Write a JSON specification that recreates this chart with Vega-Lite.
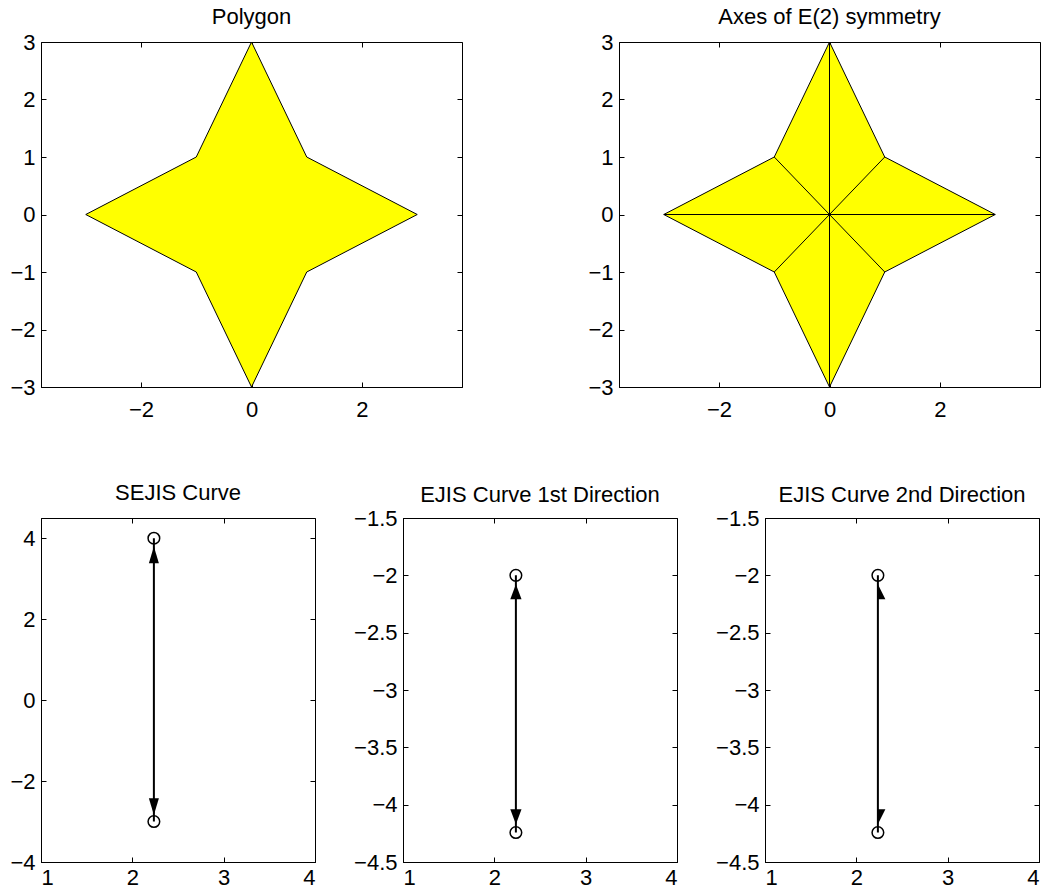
{
  "$schema": "https://vega.github.io/schema/vega-lite/v6.json",
  "background": "white",
  "padding": {"left": 9, "top": 5, "right": 5, "bottom": 5},
  "spacing": 60,
  "resolve": {"scale": {"shape": "independent"}},
  "config": {
    "font": "Liberation Sans",
    "view": {"stroke": "black", "strokeWidth": 1},
    "axis": {
      "grid": false,
      "domainColor": "black",
      "domainWidth": 1,
      "tickColor": "black",
      "tickWidth": 1,
      "tickSize": -5,
      "labelColor": "black",
      "labelFont": "Liberation Sans",
      "labelFontSize": 22,
      "labelPadding": 11,
      "title": null,
      "format": "~g"
    },
    "axisBottom": {"labelPadding": 17},
    "title": {"font": "Liberation Sans", "fontSize": 22, "fontWeight": "normal", "color": "black", "offset": 2}
  },
  "datasets": {
    "star": [
      {"i": 0, "x": 0, "y": 3},
      {"i": 1, "x": 1, "y": 1},
      {"i": 2, "x": 3, "y": 0},
      {"i": 3, "x": 1, "y": -1},
      {"i": 4, "x": 0, "y": -3},
      {"i": 5, "x": -1, "y": -1},
      {"i": 6, "x": -3, "y": 0},
      {"i": 7, "x": -1, "y": 1}
    ],
    "axes": [
      {"x1": 0, "y1": 3, "x2": 0, "y2": -3},
      {"x1": -3, "y1": 0, "x2": 3, "y2": 0},
      {"x1": -1, "y1": 1, "x2": 1, "y2": -1},
      {"x1": 1, "y1": 1, "x2": -1, "y2": -1}
    ],
    "sejis_pts": [{"x": 2.236, "y": 4}, {"x": 2.236, "y": -3}],
    "sejis_arrows": [{"x": 2.236, "y": 3.59, "dir": "up"}, {"x": 2.236, "y": -2.63, "dir": "down"}],
    "ejis_pts": [{"x": 2.236, "y": -2}, {"x": 2.236, "y": -4.243}],
    "ejis_arrows": [{"x": 2.236, "y": -2.143, "dir": "up"}, {"x": 2.236, "y": -4.105, "dir": "down"}]
  },
  "vconcat": [
    {
      "bounds": "flush",
      "spacing": 157,
      "hconcat": [
        {
          "title": "Polygon",
          "width": 421,
          "height": 345,
          "data": {"name": "star"},
          "resolve": {"axis": {"x": "independent", "y": "independent"}},
          "layer": [
            {
              "mark": {"type": "line", "interpolate": "linear-closed", "fill": "#ffff00", "stroke": "black", "strokeWidth": 1, "clip": true},
              "encoding": {
                "x": {"field": "x", "type": "quantitative", "scale": {"domain": [-3.81, 3.81], "nice": false, "zero": false}, "axis": {"values": [-2, 0, 2], "orient": "bottom"}},
                "y": {"field": "y", "type": "quantitative", "scale": {"domain": [-3, 3], "nice": false, "zero": false}, "axis": {"values": [-3, -2, -1, 0, 1, 2, 3], "orient": "left"}},
                "order": {"field": "i", "type": "quantitative"}
              }
            },
            {
              "mark": {"type": "point", "opacity": 0},
              "encoding": {
                "x": {"field": "x", "type": "quantitative", "axis": {"values": [-2, 0, 2], "orient": "top", "labels": false, "domain": false}},
                "y": {"field": "y", "type": "quantitative", "axis": {"values": [-3, -2, -1, 0, 1, 2, 3], "orient": "right", "labels": false, "domain": false}}
              }
            }
          ]
        },
        {
          "title": "Axes of E(2) symmetry",
          "width": 421,
          "height": 345,
          "resolve": {"axis": {"x": "independent", "y": "independent"}},
          "layer": [
            {
              "data": {"name": "star"},
              "mark": {"type": "line", "interpolate": "linear-closed", "fill": "#ffff00", "stroke": "black", "strokeWidth": 1, "clip": true},
              "encoding": {
                "x": {"field": "x", "type": "quantitative", "scale": {"domain": [-3.81, 3.81], "nice": false, "zero": false}, "axis": {"values": [-2, 0, 2], "orient": "bottom"}},
                "y": {"field": "y", "type": "quantitative", "scale": {"domain": [-3, 3], "nice": false, "zero": false}, "axis": {"values": [-3, -2, -1, 0, 1, 2, 3], "orient": "left"}},
                "order": {"field": "i", "type": "quantitative"}
              }
            },
            {
              "data": {"name": "axes"},
              "mark": {"type": "rule", "stroke": "black", "strokeWidth": 1},
              "encoding": {
                "x": {"field": "x1", "type": "quantitative", "axis": {"values": [-2, 0, 2], "orient": "top", "labels": false, "domain": false}},
                "y": {"field": "y1", "type": "quantitative", "axis": {"values": [-3, -2, -1, 0, 1, 2, 3], "orient": "right", "labels": false, "domain": false}},
                "x2": {"field": "x2"},
                "y2": {"field": "y2"}
              }
            }
          ]
        }
      ]
    },
    {
      "bounds": "flush",
      "spacing": 88,
      "resolve": {"scale": {"shape": "independent"}},
      "hconcat": [
        {
          "title": {"text": "SEJIS Curve", "offset": 13},
          "width": 274,
          "height": 344,
          "resolve": {"axis": {"x": "independent", "y": "independent"}},
          "layer": [
            {
              "data": {"name": "sejis_pts"},
              "mark": {"type": "line", "stroke": "black", "strokeWidth": 2},
              "encoding": {
                "x": {"field": "x", "type": "quantitative", "scale": {"domain": [1, 4], "nice": false, "zero": false}, "axis": {"values": [1, 2, 3, 4], "orient": "bottom", "labelPadding": 10}},
                "y": {"field": "y", "type": "quantitative", "scale": {"domain": [-4, 4.5], "nice": false, "zero": false}, "axis": {"values": [-4, -2, 0, 2, 4], "orient": "left"}}
              }
            },
            {
              "data": {"name": "sejis_pts"},
              "mark": {"type": "point", "shape": "circle", "filled": false, "stroke": "black", "strokeWidth": 1.5, "size": 135, "opacity": 1},
              "encoding": {
                "x": {"field": "x", "type": "quantitative", "axis": {"values": [1, 2, 3, 4], "orient": "top", "labels": false, "domain": false}},
                "y": {"field": "y", "type": "quantitative", "axis": {"values": [-4, -2, 0, 2, 4], "orient": "right", "labels": false, "domain": false}}
              }
            },
            {
              "data": {"name": "sejis_arrows"},
              "mark": {"type": "point", "filled": true, "fill": "black", "stroke": null, "size": 279, "opacity": 1},
              "encoding": {
                "x": {"field": "x", "type": "quantitative", "axis": null},
                "y": {"field": "y", "type": "quantitative", "axis": null},
                "shape": {"field": "dir", "type": "nominal", "scale": {"domain": ["up", "down"], "range": ["M-0.6,1L0.6,1L0,-1Z", "M-0.6,-1L0.6,-1L0,1Z"]}, "legend": null}
              }
            }
          ]
        },
        {
          "title": {"text": "EJIS Curve 1st Direction", "offset": 0},
          "width": 274,
          "height": 344,
          "resolve": {"axis": {"x": "independent", "y": "independent"}},
          "layer": [
            {
              "data": {"name": "ejis_pts"},
              "mark": {"type": "line", "stroke": "black", "strokeWidth": 2},
              "encoding": {
                "x": {"field": "x", "type": "quantitative", "scale": {"domain": [1, 4], "nice": false, "zero": false}, "axis": {"values": [1, 2, 3, 4], "orient": "bottom", "labelPadding": 10}},
                "y": {"field": "y", "type": "quantitative", "scale": {"domain": [-4.5, -1.5], "nice": false, "zero": false}, "axis": {"values": [-4.5, -4, -3.5, -3, -2.5, -2, -1.5], "orient": "left"}}
              }
            },
            {
              "data": {"name": "ejis_pts"},
              "mark": {"type": "point", "shape": "circle", "filled": false, "stroke": "black", "strokeWidth": 1.5, "size": 135, "opacity": 1},
              "encoding": {
                "x": {"field": "x", "type": "quantitative", "axis": {"values": [1, 2, 3, 4], "orient": "top", "labels": false, "domain": false}},
                "y": {"field": "y", "type": "quantitative", "axis": {"values": [-4.5, -4, -3.5, -3, -2.5, -2, -1.5], "orient": "right", "labels": false, "domain": false}}
              }
            },
            {
              "data": {"name": "ejis_arrows"},
              "mark": {"type": "point", "filled": true, "fill": "black", "stroke": null, "size": 225, "opacity": 1},
              "encoding": {
                "x": {"field": "x", "type": "quantitative", "axis": null},
                "y": {"field": "y", "type": "quantitative", "axis": null},
                "shape": {"field": "dir", "type": "nominal", "scale": {"domain": ["up", "down"], "range": ["M-0.75,1L0.75,1L0,-1Z", "M-0.75,-1L0.75,-1L0,1Z"]}, "legend": null}
              }
            }
          ]
        },
        {
          "title": {"text": "EJIS Curve 2nd Direction", "offset": 0},
          "width": 274,
          "height": 344,
          "resolve": {"axis": {"x": "independent", "y": "independent"}},
          "layer": [
            {
              "data": {"name": "ejis_pts"},
              "mark": {"type": "line", "stroke": "black", "strokeWidth": 2},
              "encoding": {
                "x": {"field": "x", "type": "quantitative", "scale": {"domain": [1, 4], "nice": false, "zero": false}, "axis": {"values": [1, 2, 3, 4], "orient": "bottom", "labelPadding": 10}},
                "y": {"field": "y", "type": "quantitative", "scale": {"domain": [-4.5, -1.5], "nice": false, "zero": false}, "axis": {"values": [-4.5, -4, -3.5, -3, -2.5, -2, -1.5], "orient": "left"}}
              }
            },
            {
              "data": {"name": "ejis_pts"},
              "mark": {"type": "point", "shape": "circle", "filled": false, "stroke": "black", "strokeWidth": 1.5, "size": 135, "opacity": 1},
              "encoding": {
                "x": {"field": "x", "type": "quantitative", "axis": {"values": [1, 2, 3, 4], "orient": "top", "labels": false, "domain": false}},
                "y": {"field": "y", "type": "quantitative", "axis": {"values": [-4.5, -4, -3.5, -3, -2.5, -2, -1.5], "orient": "right", "labels": false, "domain": false}}
              }
            },
            {
              "data": {"name": "ejis_arrows"},
              "mark": {"type": "point", "filled": true, "fill": "black", "stroke": null, "size": 225, "opacity": 1},
              "encoding": {
                "x": {"field": "x", "type": "quantitative", "axis": null},
                "y": {"field": "y", "type": "quantitative", "axis": null},
                "shape": {"field": "dir", "type": "nominal", "scale": {"domain": ["up", "down"], "range": ["M0,1L1,1L0,-1Z", "M0,-1L1,-1L0,1Z"]}, "legend": null}
              }
            }
          ]
        }
      ]
    }
  ]
}
